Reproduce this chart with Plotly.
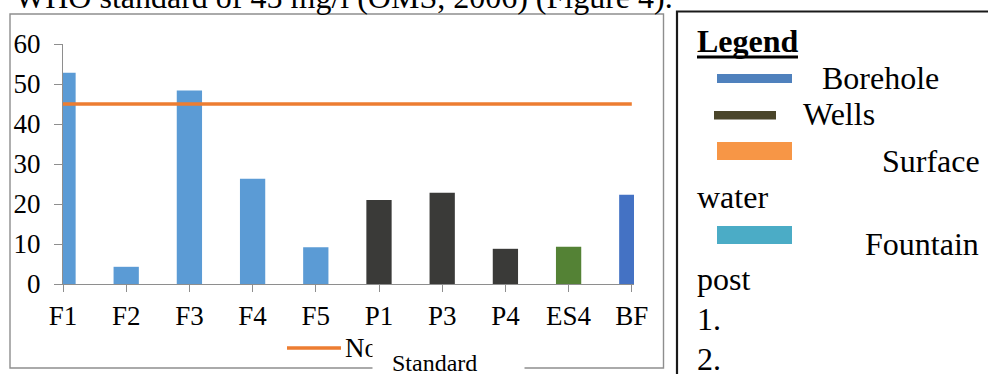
import plotly.graph_objects as go

# ---- data ----
sites = ["F1", "F2", "F3", "F4", "F5", "P1", "P3", "P4", "ES4", "BF"]
nitrate = [52.8, 4.3, 48.4, 26.3, 9.2, 21.0, 22.8, 8.8, 9.3, 22.3]
site_group = ["F", "F", "F", "F", "F", "P", "P", "P", "ES", "BF"]
standard_value = 45
standard_name = "Norm"
y_ticks = [0, 10, 20, 30, 40, 50, 60]
legend_items = ["Borehole", "Wells", "Surface", "water", "Fountain", "post", "1.", "2."]
heading = "WHO standard of 45 mg/l (OMS, 2006) (Figure 4)."

# ---- styles ----
group_colors = {"F": "#5B9BD5", "P": "#3A3A38", "ES": "#548235", "BF": "#4472C4"}
FONT = "Liberation Serif, Times New Roman, serif"
W, H = 988, 374
L, R, T, B = 63, 634, 44, 284
PW, PH = R - L, B - T


def px(x):
    return (x - L) / PW


def py(y):
    return (B - y) / PH


fig = go.Figure()
fig.add_trace(go.Bar(
    x=sites, y=nitrate, width=0.4,
    marker=dict(color=[group_colors[g] for g in site_group], line=dict(width=0)),
    showlegend=False,
))
fig.add_trace(go.Scatter(
    x=sites, y=[standard_value] * len(sites), mode="lines", name=standard_name,
    line=dict(color="#ED7D31", width=3.5), showlegend=False,
))

shapes = []
# chart frame
shapes.append(dict(type="rect", xref="paper", yref="paper",
                   x0=px(10), x1=px(663.5), y0=py(368), y1=py(14),
                   line=dict(color="#8E8E8E", width=1.4), layer="below"))
# legend box on the right
shapes.append(dict(type="rect", xref="paper", yref="paper",
                   x0=px(677), x1=px(1010), y0=py(420), y1=py(11.5),
                   line=dict(color="#1A1A1A", width=2.2)))
# norm legend sample line
shapes.append(dict(type="line", xref="paper", yref="paper",
                   x0=px(287), x1=px(341), y0=py(348), y1=py(348),
                   line=dict(color="#ED7D31", width=3.5)))
# Legend underline
shapes.append(dict(type="rect", xref="paper", yref="paper",
                   x0=px(697), x1=px(798), y0=py(58.5), y1=py(55.5),
                   fillcolor="black", line=dict(width=0)))
# right legend swatches
swatches = [
    (717, 792, 74, 83, "#4F81BD"),
    (714, 776, 111, 119.5, "#4A452A"),
    (717, 792, 142, 160, "#F79646"),
    (717, 792, 226, 244, "#4BACC6"),
]
for x0, x1, y0, y1, c in swatches:
    shapes.append(dict(type="rect", xref="paper", yref="paper",
                       x0=px(x0), x1=px(x1), y0=py(y1), y1=py(y0),
                       fillcolor=c, line=dict(width=0)))

ann = []


def text(t, x, ymid, size, bold=False, **kw):
    d = dict(text=("<b>%s</b>" % t) if bold else t, xref="paper", yref="paper",
             x=px(x), y=py(ymid), xanchor="left", yanchor="middle",
             showarrow=False, borderpad=0,
             font=dict(family=FONT, size=size, color="black"))
    d.update(kw)
    ann.append(d)


text(heading, 14, -3, 32)
text(standard_name, 344, 347.5, 27)
# white box covering part of the legend and frame
ann.append(dict(text=" ", xref="paper", yref="paper", x=px(372), y=py(330),
                xanchor="left", yanchor="top", showarrow=False, borderpad=0,
                width=151, height=50, bgcolor="white",
                font=dict(family=FONT, size=10, color="white")))
text("Standard", 391, 363, 24)

text("Legend", 696, 41, 32, bold=True)
positions = [(821, 78), (802, 114), (881, 161), (696, 197), (864, 244), (696, 279), (696, 319), (696, 359)]
for t, (x, y) in zip(legend_items, positions):
    text(t, x, y, 32)

fig.update_layout(
    width=W, height=H,
    margin=dict(l=L, r=W - R, t=T, b=H - B, pad=0),
    paper_bgcolor="white", plot_bgcolor="white",
    bargap=0.6,
    shapes=shapes, annotations=ann,
    font=dict(family=FONT, size=27, color="black"),
)
fig.update_xaxes(
    type="category", range=[0, PW / 63.2], showgrid=False,
    showline=True, linecolor="#8E8E8E", linewidth=1.4,
    ticks="outside", ticklen=7, tickcolor="#8E8E8E", tickwidth=1.4,
    tickfont=dict(family=FONT, size=27, color="black"), ticklabelstandoff=0,
    fixedrange=True,
)
fig.update_yaxes(
    range=[0, 60], tickvals=y_ticks, showgrid=False, zeroline=False,
    showline=True, linecolor="#8E8E8E", linewidth=1.4,
    ticks="outside", ticklen=8, tickcolor="#8E8E8E", tickwidth=1.4,
    tickfont=dict(family=FONT, size=27, color="black"), ticklabelstandoff=8,
    fixedrange=True,
)

fig.write_html("out.html", config={"displayModeBar": False})
